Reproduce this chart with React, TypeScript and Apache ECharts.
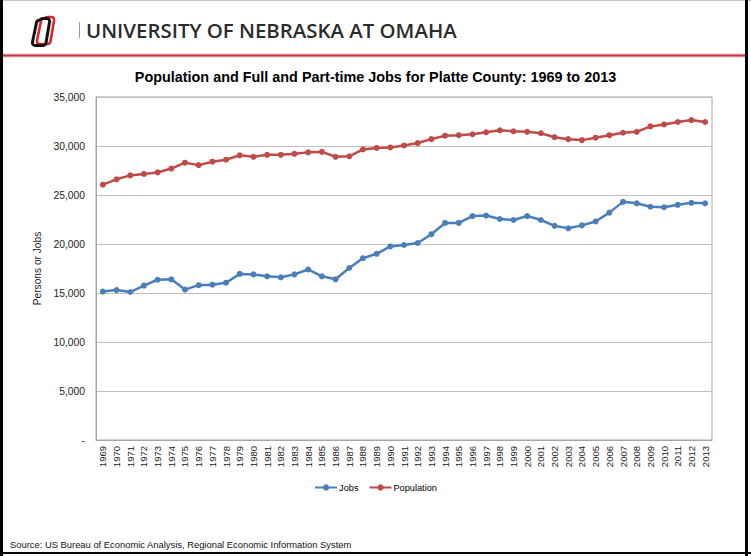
import React, { useEffect, useRef } from "react";
import * as echarts from "echarts";

const years: string[] = [
  "1969","1970","1971","1972","1973","1974","1975","1976","1977","1978",
  "1979","1980","1981","1982","1983","1984","1985","1986","1987","1988",
  "1989","1990","1991","1992","1993","1994","1995","1996","1997","1998",
  "1999","2000","2001","2002","2003","2004","2005","2006","2007","2008",
  "2009","2010","2011","2012","2013",
];

const jobs: number[] = [
  15150, 15300, 15100, 15750, 16350, 16400, 15350, 15800, 15850, 16050,
  16950, 16900, 16700, 16600, 16900, 17400, 16700, 16400, 17550, 18550,
  19000, 19750, 19900, 20100, 21000, 22150, 22150, 22850, 22900, 22550,
  22450, 22850, 22450, 21850, 21600, 21900, 22300, 23200, 24300, 24150,
  23800, 23750, 24000, 24200, 24150,
];

const population: number[] = [
  26050, 26600, 27000, 27150, 27300, 27700, 28300, 28050, 28400, 28600,
  29050, 28900, 29100, 29100, 29200, 29350, 29400, 28900, 28950, 29650,
  29800, 29850, 30050, 30300, 30700, 31050, 31100, 31200, 31400, 31600,
  31500, 31450, 31300, 30900, 30700, 30600, 30850, 31100, 31350, 31450,
  32000, 32200, 32450, 32650, 32450,
];

const yTicks = { min: 0, max: 35000, interval: 5000 };

const titleText = "Population and Full and Part-time Jobs for Platte County: 1969 to 2013";
const headerText = "UNIVERSITY OF NEBRASKA AT OMAHA";
const sourceText = "Source: US Bureau of Economic Analysis, Regional Economic Information System";
const yAxisName = "Persons or Jobs";

const FONT = "'Liberation Sans', Arial, sans-serif";

const LOGO_D =
  "M9 1.5 Q10.5 0 13 0 L16 0 Q19.5 0 19 3.5 L15.5 24.5 Q15 27 12 27 L5 27 Q1.5 27 2 23.5 L6 4 Q6.5 2 9 1.5 Z";

let registered = false;
function registerLogo() {
  if (registered) return;
  echarts.graphic.registerShape("unoLogo", echarts.graphic.extendPath(LOGO_D, {}) as any);
  registered = true;
}

export default function App() {
  const ref = useRef<HTMLDivElement>(null);

  useEffect(() => {
    document.body.style.margin = "0";
    registerLogo();
    const chart = echarts.init(ref.current!, undefined, { renderer: "svg" });
    chart.setOption({
      animation: false,
      backgroundColor: "#ffffff",
      textStyle: { fontFamily: FONT },
      title: {
        text: titleText,
        left: "center",
        top: 65,
        textStyle: { fontSize: 14.4, fontWeight: "bold", color: "#000", fontFamily: FONT },
      },
      grid: {
        left: 96,
        right: 39,
        top: 97,
        bottom: 116,
        show: true,
        borderColor: "#a6a6a6",
        borderWidth: 1,
        containLabel: false,
      },
      legend: {
        top: 478,
        left: "center",
        itemWidth: 22,
        itemHeight: 8,
        itemGap: 10,
        textStyle: { fontSize: 9.2, color: "#000", fontFamily: FONT, padding: [0, 0, 0, -3] },
        data: ["Jobs", "Population"],
      },
      xAxis: {
        type: "category",
        data: years,
        boundaryGap: true,
        axisLine: { lineStyle: { color: "#a6a6a6" } },
        axisTick: { show: false },
        axisLabel: {
          interval: 0,
          rotate: 90,
          fontSize: 9.5,
          color: "#222",
          margin: 6,
          fontFamily: FONT,
        },
      },
      yAxis: {
        type: "value",
        min: yTicks.min,
        max: yTicks.max,
        interval: yTicks.interval,
        name: yAxisName,
        nameLocation: "middle",
        nameRotate: 90,
        nameGap: 45,
        nameTextStyle: { fontSize: 10.2, color: "#222", fontFamily: FONT },
        axisLine: { show: true, lineStyle: { color: "#a6a6a6" } },
        axisTick: { show: false },
        splitLine: { lineStyle: { color: "#bfbfbf" } },
        axisLabel: {
          fontSize: 10.3,
          color: "#222",
          margin: 11,
          fontFamily: FONT,
          formatter: (v: number) => (v === 0 ? "-" : v.toLocaleString("en-US")),
        },
      },
      series: [
        {
          name: "Jobs",
          type: "line",
          data: jobs,
          symbol: "circle",
          symbolSize: 6,
          color: "#4a7ebb",
          lineStyle: { width: 2.5, color: "#4a7ebb" },
          itemStyle: { color: "#4a7ebb" },
        },
        {
          name: "Population",
          type: "line",
          data: population,
          symbol: "circle",
          symbolSize: 6,
          color: "#be4b48",
          lineStyle: { width: 2.5, color: "#be4b48" },
          itemStyle: { color: "#be4b48" },
        },
      ],
      graphic: [
        // page frame
        { type: "line", shape: { x1: 0, y1: 0.5, x2: 751, y2: 0.5 }, style: { stroke: "#c8c8c8", lineWidth: 1 } },
        { type: "line", shape: { x1: 1.5, y1: 0, x2: 1.5, y2: 556 }, style: { stroke: "#000", lineWidth: 3 } },
        { type: "line", shape: { x1: 746.5, y1: 0, x2: 746.5, y2: 556 }, style: { stroke: "#000", lineWidth: 3 } },
        { type: "line", shape: { x1: 0, y1: 553, x2: 751, y2: 553 }, style: { stroke: "#000", lineWidth: 2 } },
        // header red rule
        { type: "line", shape: { x1: 3, y1: 55.5, x2: 745, y2: 55.5 }, style: { stroke: "#f2c4c6", lineWidth: 4 } },
        { type: "line", shape: { x1: 3, y1: 55.5, x2: 745, y2: 55.5 }, style: { stroke: "#c23a44", lineWidth: 2 } },
        // logo
        {
          type: "unoLogo",
          x: 35,
          y: 17,
          style: { fill: "none", stroke: "#d9262e", lineWidth: 2.6 },
        },
        {
          type: "unoLogo",
          x: 30.5,
          y: 18.5,
          style: { fill: "none", stroke: "#111", lineWidth: 3 },
        },
        // divider
        { type: "line", shape: { x1: 79.5, y1: 22, x2: 79.5, y2: 38 }, style: { stroke: "#9a9a9a", lineWidth: 1 } },
        {
          type: "text",
          x: 86,
          y: 30,
          style: {
            text: headerText,
            fontSize: 20.4,
            fontWeight: 600,
            fontFamily: "'Open Sans', 'Noto Sans', sans-serif",
            fill: "#2b2b2b",
            verticalAlign: "middle",
          },
        },
        {
          type: "text",
          x: 10,
          y: 544,
          style: {
            text: sourceText,
            fontSize: 9.4,
            fontFamily: FONT,
            fill: "#111",
            verticalAlign: "middle",
          },
        },
      ],
    });
    return () => chart.dispose();
  }, []);

  return (
    <div
      ref={ref}
      style={{ position: "absolute", left: 0, top: 0, width: 751, height: 556 }}
    />
  );
}
